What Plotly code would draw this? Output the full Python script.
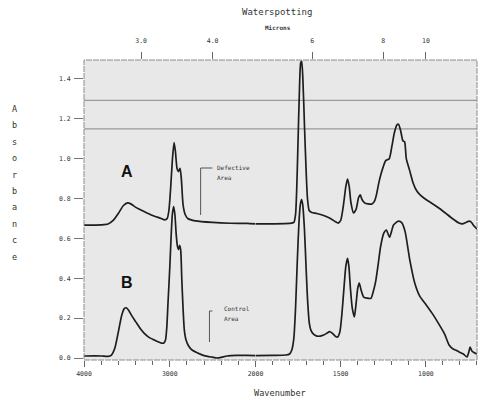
import numpy as np
import plotly.graph_objects as go

# ---- spectrum A (defective area), wavenumber (cm-1) vs absorbance ----
wn_a = [4000, 3900, 3800, 3720, 3660, 3600, 3540, 3490, 3450, 3400, 3300, 3200,
        3100, 3060, 3030, 3010, 2990, 2970, 2950, 2935, 2915, 2900, 2880, 2865,
        2845, 2820, 2790, 2700, 2500, 2300, 2100, 2000, 1900, 1800, 1775, 1765,
        1758, 1750, 1742, 1735, 1729, 1722, 1712, 1702, 1695, 1685, 1670, 1640,
        1600, 1560, 1530, 1515, 1500, 1485, 1470, 1460, 1450, 1440, 1425, 1410,
        1395, 1385, 1375, 1360, 1340, 1316, 1300, 1290, 1276, 1265, 1250, 1236,
        1215, 1200, 1185, 1170, 1160, 1148, 1135, 1125, 1115, 1095, 1075, 1055,
        1034, 1000, 977, 920, 885, 845, 805, 787, 765, 747, 735, 720, 700]
abs_a = [0.667, 0.667, 0.668, 0.672, 0.690, 0.725, 0.765, 0.778, 0.772, 0.757, 0.735, 0.715,
         0.700, 0.693, 0.700, 0.740, 0.850, 0.990, 1.080, 1.040, 0.950, 0.935, 0.952, 0.900,
         0.770, 0.720, 0.700, 0.688, 0.680, 0.676, 0.675, 0.673, 0.673, 0.675, 0.680, 0.720,
         0.850, 1.100, 1.350, 1.480, 1.490, 1.400, 1.150, 0.920, 0.800, 0.740, 0.730, 0.725,
         0.715, 0.700, 0.683, 0.677, 0.690, 0.760, 0.860, 0.898, 0.860, 0.780, 0.728, 0.745,
         0.805, 0.818, 0.795, 0.778, 0.773, 0.773, 0.790, 0.820, 0.880, 0.918, 0.960, 0.990,
         1.000, 1.060, 1.130, 1.170, 1.172, 1.140, 1.090, 1.085, 1.000, 0.940, 0.878, 0.840,
         0.818, 0.795, 0.783, 0.750, 0.727, 0.700, 0.677, 0.673, 0.680, 0.687, 0.683, 0.665, 0.647]

# ---- spectrum B (control area) ----
wn_b = [4000, 3800, 3720, 3680, 3640, 3600, 3560, 3530, 3509, 3480, 3440, 3394,
        3340, 3300, 3246, 3180, 3130, 3097, 3070, 3050, 3035, 3020, 3000, 2985,
        2970, 2955, 2940, 2925, 2910, 2898, 2885, 2872, 2860, 2845, 2830, 2810,
        2780, 2740, 2674, 2600, 2503, 2446, 2400, 2331, 2217, 2100, 2000, 1900,
        1822, 1800, 1787, 1775, 1765, 1755, 1745, 1737, 1730, 1723, 1713, 1703,
        1695, 1685, 1675, 1660, 1640, 1620, 1600, 1580, 1565, 1550, 1530, 1518,
        1505, 1493, 1480, 1470, 1460, 1452, 1443, 1432, 1420, 1410, 1400, 1391,
        1380, 1365, 1345, 1322, 1310, 1295, 1280, 1266, 1247, 1232, 1213, 1190,
        1161, 1142, 1122, 1094, 1065, 1036, 998, 960, 921, 890, 864, 840,
        826, 805, 780, 759, 748, 741, 730, 713, 700]
abs_b = [0.010, 0.010, 0.008, 0.015, 0.050, 0.130, 0.215, 0.248, 0.252, 0.240, 0.210, 0.180,
         0.145, 0.125, 0.105, 0.090, 0.080, 0.075, 0.075, 0.090, 0.150, 0.280, 0.450, 0.600,
         0.720, 0.760, 0.720, 0.620, 0.560, 0.545, 0.565, 0.540, 0.400, 0.250, 0.140, 0.090,
         0.060, 0.040, 0.025, 0.012, 0.004, 0.000, 0.003, 0.010, 0.013, 0.013, 0.012, 0.013,
         0.015, 0.020, 0.040, 0.100, 0.250, 0.480, 0.680, 0.770, 0.795, 0.770, 0.650, 0.450,
         0.300, 0.180, 0.140, 0.120, 0.110, 0.110, 0.115, 0.125, 0.132, 0.125, 0.108, 0.105,
         0.130, 0.220, 0.360, 0.460, 0.500, 0.460, 0.350, 0.250, 0.206, 0.270, 0.350, 0.376,
         0.340, 0.305, 0.300, 0.300, 0.330, 0.383, 0.470, 0.558, 0.626, 0.642, 0.606, 0.667,
         0.687, 0.679, 0.634, 0.490, 0.375, 0.310, 0.266, 0.220, 0.166, 0.120, 0.065, 0.045,
         0.040, 0.030, 0.020, 0.005, 0.030, 0.055, 0.035, 0.025, 0.020]

# reference levels drawn across the chart
ref_levels = [1.292, 1.149]

# axis ticks
y_ticks = [0.0, 0.2, 0.4, 0.6, 0.8, 1.0, 1.2, 1.4]
wn_ticks_high = [4000, 3000, 2000]
wn_ticks_low = [1500, 1000]
micron_ticks_high = [3.0, 4.0]
micron_ticks_low = [6, 8, 10]

W, H = 491, 405
ML, MR, MT, MB = 84, 6, 60, 45
PW, PH = W - ML - MR, H - MT - MB
SPLIT = 175 / PW  # 4000-2000 occupies the left part, 2000-700 the right part

LINE = "#1e1e1e"
TXT = "#333333"
MONO = "DejaVu Sans Mono"
BG = "#e8e8e8"


def px(x):
    return (x - ML) / PW


def py(y):
    return (H - MB - y) / PH


fig = go.Figure()

# spectrum A uses the micron (top) axes, spectrum B the wavenumber (bottom) axes;
# both pairs share identical wavenumber ranges.
for wn, ab, (xa_hi, xa_lo) in [(wn_a, abs_a, ("x3", "x4")), (wn_b, abs_b, ("x", "x2"))]:
    wn = np.array(wn, dtype=float)
    ab = np.array(ab, dtype=float)
    hi = wn >= 2000
    lo = wn <= 2000
    fig.add_trace(go.Scatter(x=wn[hi], y=ab[hi], mode="lines", xaxis=xa_hi, yaxis="y",
                             line=dict(color=LINE, width=1.7, shape="spline", smoothing=0.6),
                             showlegend=False, hoverinfo="skip"))
    fig.add_trace(go.Scatter(x=wn[lo], y=ab[lo], mode="lines", xaxis=xa_lo, yaxis="y",
                             line=dict(color=LINE, width=1.7, shape="spline", smoothing=0.6),
                             showlegend=False, hoverinfo="skip"))

tick_font = dict(family=MONO, size=6.5, color=TXT)
common_x = dict(showgrid=False, zeroline=False, showline=False, ticks="outside",
                tickcolor="#666", tickwidth=1, tickfont=tick_font)

fig.update_layout(
    width=W, height=H,
    margin=dict(l=ML, r=MR, t=MT, b=MB, pad=0),
    paper_bgcolor="white",
    plot_bgcolor="rgba(0,0,0,0)",
    xaxis=dict(domain=[0, SPLIT], range=[4000, 2000], anchor="y",
               tickvals=wn_ticks_high, ticklen=6,
               minor=dict(dtick=200, tick0=2000, ticks="outside", ticklen=4, tickcolor="#666"),
               ticklabelstandoff=1, **common_x),
    xaxis2=dict(domain=[SPLIT, 1], range=[2000, 700], anchor="y",
                tickvals=wn_ticks_low, ticklen=6,
                minor=dict(dtick=100, tick0=700, ticks="outside", ticklen=4, tickcolor="#666"),
                ticklabelstandoff=1, **common_x),
    xaxis3=dict(overlaying="x", side="top", range=[4000, 2000], anchor="y",
                tickvals=[10000 / m for m in micron_ticks_high],
                ticktext=[f"{m:.1f}" for m in micron_ticks_high],
                ticklen=7, ticklabelstandoff=6, **common_x),
    xaxis4=dict(overlaying="x2", side="top", range=[2000, 700], anchor="y",
                tickvals=[10000 / m for m in micron_ticks_low],
                ticktext=[str(m) for m in micron_ticks_low],
                ticklen=7, ticklabelstandoff=6, **common_x),
    yaxis=dict(range=[-0.01, 1.495], tickvals=y_ticks, tickformat=".1f",
               showgrid=False, zeroline=False, showline=False, ticks="outside",
               ticklen=9, tickcolor="#777", tickfont=dict(family=MONO, size=6.5, color=TXT),
               ticklabelstandoff=2),
)

shapes = []
# plotting-area background spanning both wavenumber segments
shapes.append(dict(type="rect", xref="paper", yref="paper", x0=0, x1=1, y0=0, y1=1,
                   fillcolor=BG, line=dict(width=0), layer="below"))
# chart frame
shapes.append(dict(type="rect", xref="paper", yref="paper", x0=0, x1=1, y0=0, y1=1,
                   line=dict(color="#8c8c8c", width=1, dash="6px,1px"), layer="above"))
# horizontal reference lines
for lvl in ref_levels:
    shapes.append(dict(type="line", xref="paper", yref="y", x0=0, x1=1, y0=lvl, y1=lvl,
                       line=dict(color="#9a9a9a", width=1.2), layer="below"))
# callout brackets
for (x0, ytop, ybot, x1) in [(203, 168, 215, 215), (212, 311, 342, 215)]:
    shapes.append(dict(type="path", xref="paper", yref="paper",
                       path=f"M {px(x1)} {py(ytop)} L {px(x0)} {py(ytop)} L {px(x0)} {py(ybot)}",
                       line=dict(color="#555", width=1)))
fig.update_layout(shapes=shapes)

ann = []


def text(x, y, s, size, family=MONO, color=TXT, xanchor="center", bold=False):
    if bold:
        s = f"<b>{s}</b>"
    ann.append(dict(x=px(x), y=py(y), xref="paper", yref="paper", text=s, showarrow=False,
                    xanchor=xanchor, yanchor="middle",
                    font=dict(family=family, size=size, color=color)))


text(281, 12, "Waterspotting", 9)
text(282, 28, "Microns", 6, bold=True)
text(284, 393, "Wavenumber", 8.6)
for i, ch in enumerate("Absorbance"):
    text(13, 109 + i * 16.4, ch, 8.5)
text(128, 171, "A", 16, family="Liberation Sans", color="#111", bold=True)
text(128, 282, "B", 16, family="Liberation Sans", color="#111", bold=True)
text(218, 167, "Defective", 6, xanchor="left")
text(218, 177, "Area", 6, xanchor="left")
text(225, 308, "Control", 6, xanchor="left")
text(225, 318, "Area", 6, xanchor="left")
fig.update_layout(annotations=ann)

fig.write_html("out.html")
